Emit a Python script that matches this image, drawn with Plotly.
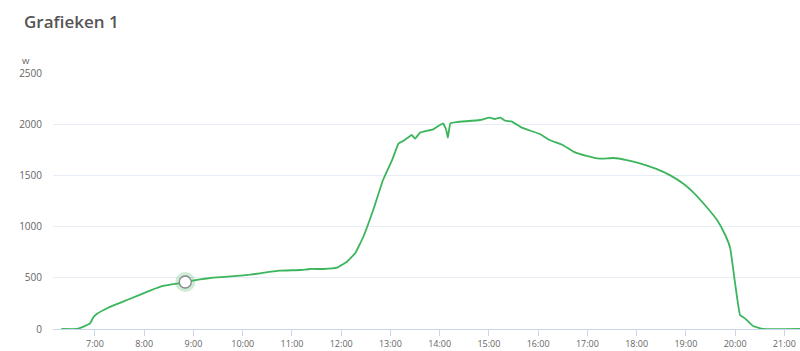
import plotly.graph_objects as go

times = ["06:19", "06:38", "06:48", "06:54", "06:58", "07:02", "07:16", "07:39", "08:07", "08:23",
         "08:42", "08:50", "09:08", "09:24", "09:53", "10:09", "10:21", "10:45", "11:10", "11:22",
         "11:38", "11:55", "12:07", "12:17", "12:27", "12:39", "12:51", "13:02", "13:10", "13:16",
         "13:24", "13:26", "13:30", "13:36", "13:52", "14:04", "14:08", "14:10", "14:13", "14:21",
         "14:49", "15:01", "15:07", "15:14", "15:20", "15:28", "15:40", "15:54", "16:02", "16:14",
         "16:30", "16:43", "16:59", "17:15", "17:32", "17:48", "18:04", "18:24", "18:41", "18:57",
         "19:09", "19:25", "19:38", "19:48", "19:54", "20:00", "20:06", "20:12", "20:22", "20:34",
         "21:19"]
watts = [0, 0, 30, 55, 114, 146, 208, 283, 374, 420,
         446, 459, 485, 501, 518, 530, 544, 570, 576, 586,
         586, 599, 657, 739, 901, 1162, 1455, 1650, 1813, 1839,
         1885, 1895, 1859, 1917, 1950, 2009, 1943, 1868, 2009, 2021,
         2041, 2064, 2051, 2064, 2034, 2025, 1966, 1927, 1904, 1846,
         1797, 1732, 1690, 1663, 1670, 1650, 1618, 1563, 1500, 1418,
         1335, 1194, 1064, 918, 790, 446, 137, 104, 29, 0,
         0]
hover_time = "08:50"
hover_value = 459
y_ticks = [0, 500, 1000, 1500, 2000, 2500]

day = "2024-06-01 "
xs = [day + t for t in times]

fig = go.Figure()
fig.add_trace(go.Scatter(x=xs, y=watts, mode="lines",
                         line=dict(color="#3cb55c", width=1.8, shape="spline", smoothing=0.3),
                         hoverinfo="skip", showlegend=False))
fig.add_trace(go.Scatter(x=[day + hover_time], y=[hover_value], mode="markers",
                         marker=dict(size=20, color="rgba(60,181,92,0.25)", line=dict(width=0)),
                         hoverinfo="skip", showlegend=False))
fig.add_trace(go.Scatter(x=[day + hover_time], y=[hover_value], mode="markers",
                         marker=dict(size=12, color="white", line=dict(width=1.3, color="#888888")),
                         hoverinfo="skip", showlegend=False))

fig.update_layout(
    width=800, height=351,
    margin=dict(l=53, r=0, t=73, b=22),
    paper_bgcolor="white", plot_bgcolor="white",
    font=dict(family="Open Sans, sans-serif", color="#666666", size=10),
    title=dict(text="Grafieken 1", x=24 / 800, xref="container", xanchor="left",
               y=1 - 22 / 351, yref="container", yanchor="middle",
               font=dict(size=17, color="#555555", family="Open Sans, sans-serif", weight=600)),
    xaxis=dict(type="date", range=[day + "06:08:50", day + "21:19:05"],
               dtick=3600000, tick0=day + "07:00", tickformat="%-H:%M",
               showgrid=False, showline=True, linecolor="#ccd6eb", linewidth=1,
               ticks="outside", ticklen=6, tickcolor="#ccd6eb",
               tickfont=dict(size=9, color="#666666"), zeroline=False, fixedrange=True),
    yaxis=dict(range=[0, 2500], tickvals=y_ticks, ticktext=[str(v) for v in y_ticks],
               showgrid=True, gridcolor="#e6edf5", gridwidth=1, zeroline=False,
               showline=False, ticks="", ticklabelstandoff=10,
               tickfont=dict(size=10, color="#666666"), fixedrange=True),
    annotations=[dict(text="W", xref="paper", yref="paper", x=0, y=1, xshift=-27, yshift=13,
                      xanchor="center", yanchor="middle", showarrow=False,
                      font=dict(size=8, color="#444444"))],
)

fig.write_html("out.html")
